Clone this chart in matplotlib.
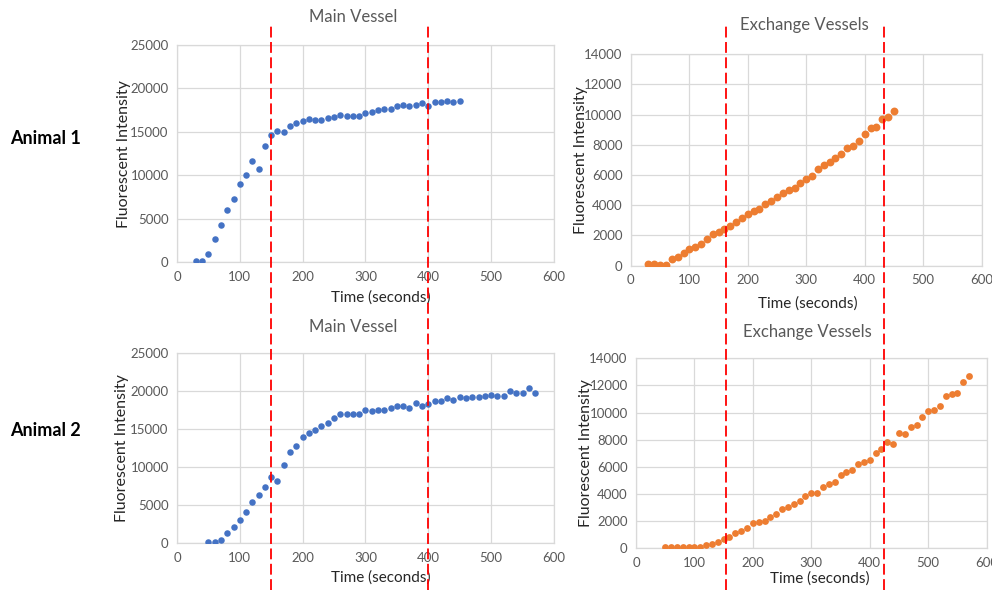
import matplotlib
matplotlib.use("Agg")
import matplotlib.pyplot as plt
from matplotlib.lines import Line2D
from matplotlib.transforms import blended_transform_factory

plt.rcParams['font.family'] = ['Lato', 'DejaVu Sans']

# Animal 1 - main vessel
a1_main_t = [30, 40, 50, 60, 70, 80, 90, 100, 110, 120, 130, 140, 150, 160, 170,
             180, 190, 200, 210, 220, 230, 240, 250, 260, 270, 280, 290, 300, 310,
             320, 330, 340, 350, 360, 370, 380, 390, 400, 410, 420, 430, 440, 450]
a1_main_y = [100, 100, 1000, 2650, 4300, 6000, 7300, 9050, 10100, 11700, 10750,
             13400, 14700, 15150, 15050, 15700, 16050, 16250, 16450, 16400, 16350,
             16600, 16700, 16900, 16850, 16850, 16850, 17150, 17350, 17500, 17650,
             17650, 18000, 18150, 17950, 18100, 18300, 17950, 18400, 18400, 18600,
             18400, 18600]

# Animal 1 - exchange vessels
a1_exch_t = a1_main_t
a1_exch_y = [90, 90, 70, 50, 420, 600, 860, 1100, 1260, 1410, 1740, 2080, 2250,
             2430, 2650, 2910, 3140, 3420, 3620, 3780, 4080, 4280, 4530, 4840, 5010,
             5120, 5450, 5740, 5940, 6400, 6670, 6890, 7110, 7370, 7770, 7950, 8260,
             8700, 9100, 9210, 9710, 9830, 10270]

# Animal 2 - main vessel
a2_main_t = [50, 60, 70, 80, 90, 100, 110, 120, 130, 140, 150, 160, 170, 180, 190,
             200, 210, 220, 230, 240, 250, 260, 270, 280, 290, 300, 310, 320, 330,
             340, 350, 360, 370, 380, 390, 400, 410, 420, 430, 440, 450, 460, 470,
             480, 490, 500, 510, 520, 530, 540, 550, 560, 570]
a2_main_y = [220, 200, 400, 1300, 2200, 3050, 4150, 5400, 6300, 7350, 8700, 8250,
             10350, 11950, 12750, 14000, 14550, 14900, 15400, 15800, 16550, 17050,
             17000, 17000, 17000, 17600, 17350, 17600, 17600, 17800, 18100, 18100,
             17850, 18500, 18050, 18300, 18700, 18700, 19100, 18800, 19250, 19080,
             19210, 19210, 19380, 19560, 19380, 19380, 20090, 19740, 19740, 20480,
             19740]

# Animal 2 - exchange vessels
a2_exch_t = a2_main_t
a2_exch_y = [70, 70, 70, 70, 70, 70, 70, 220, 300, 440, 660, 810, 1100, 1300, 1500,
             1840, 1940, 2040, 2280, 2530, 2900, 3070, 3270, 3510, 3830, 4100, 4100,
             4520, 4740, 4910, 5400, 5600, 5800, 6210, 6390, 6510, 7020, 7290, 7810,
             7690, 8520, 8400, 8910, 9110, 9700, 10120, 10190, 10510, 11250, 11350,
             11420, 12230, 12720]

main_ticks = [0, 5000, 10000, 15000, 20000, 25000]
exch_ticks = [0, 2000, 4000, 6000, 8000, 10000, 12000, 14000]
time_ticks = [0, 100, 200, 300, 400, 500, 600]

left_marks = [150, 400]     # dashed markers, main vessel column
right_marks = [163, 433]    # dashed markers, exchange column (top panel scale)

blue = '#4472C4'
orange = '#ED7D31'
grid_c = '#D9D9D9'
text_c = '#595959'

fig = plt.figure(figsize=(9.92, 5.90), dpi=100)

panels = [
    # rect, t, y, color, marker size, yticks, title, title pos, xlabel pos, ylabel x
    ([0.1784, 0.5554, 0.380, 0.3683], a1_main_t, a1_main_y, blue, 22, main_ticks,
     'Main Vessel', (0.468, 1.13), (0.54, -0.129), -0.122),
    ([0.6360, 0.5497, 0.3535, 0.3583], a1_exch_t, a1_exch_y, orange, 32, exch_ticks,
     'Exchange Vessels', (0.494, 1.14), (0.505, -0.146), -0.122),
    ([0.1784, 0.0792, 0.380, 0.3220], a2_main_t, a2_main_y, blue, 22, main_ticks,
     'Main Vessel', (0.468, 1.14), (0.54, -0.142), -0.128),
    ([0.6411, 0.0707, 0.3535, 0.3220], a2_exch_t, a2_exch_y, orange, 24, exch_ticks,
     'Exchange Vessels', (0.49, 1.14), (0.525, -0.121), -0.122),
]

axes = []
for rect, t, y, col, ms, yt, title, tpos, xlpos, ylx in panels:
    ax = fig.add_axes(rect)
    ax.scatter(t, y, s=ms, color=col, zorder=3, linewidths=0)
    ax.set_xlim(0, 600)
    ax.set_ylim(yt[0], yt[-1])
    ax.set_xticks(time_ticks)
    ax.set_yticks(yt)
    ax.grid(True, color=grid_c, linewidth=0.9)
    ax.set_axisbelow(True)
    for s in ax.spines.values():
        s.set_color(grid_c)
        s.set_linewidth(0.9)
    ax.tick_params(length=0, labelsize=9.5, labelcolor=text_c, pad=6)
    ax.text(tpos[0], tpos[1], title, transform=ax.transAxes, ha='center',
            va='center', fontsize=12, color=text_c)
    ax.set_xlabel('Time (seconds)', fontsize=11, color='#262626')
    ax.xaxis.set_label_coords(xlpos[0], xlpos[1])
    ax.set_ylabel('Fluorescent Intensity', fontsize=11.5, color='#262626')
    ax.yaxis.set_label_coords(ylx, 0.5)
    axes.append(ax)

# dashed red lines spanning both rows
for ax, marks in [(axes[0], left_marks), (axes[1], right_marks)]:
    tr = blended_transform_factory(ax.transData, fig.transFigure)
    for m in marks:
        fig.add_artist(Line2D([m, m], [0, 0.961], transform=tr, color='#FF0000',
                              linewidth=1.3, linestyle=(0, (6, 2.5)), zorder=5))

fig.text(0.010, 1 - 139 / 590, 'Animal 1', fontsize=13, fontweight='bold',
         ha='left', va='center', color='black')
fig.text(0.010, 1 - 430 / 590, 'Animal 2', fontsize=13, fontweight='bold',
         ha='left', va='center', color='black')

fig.savefig('out.png', dpi=100)
